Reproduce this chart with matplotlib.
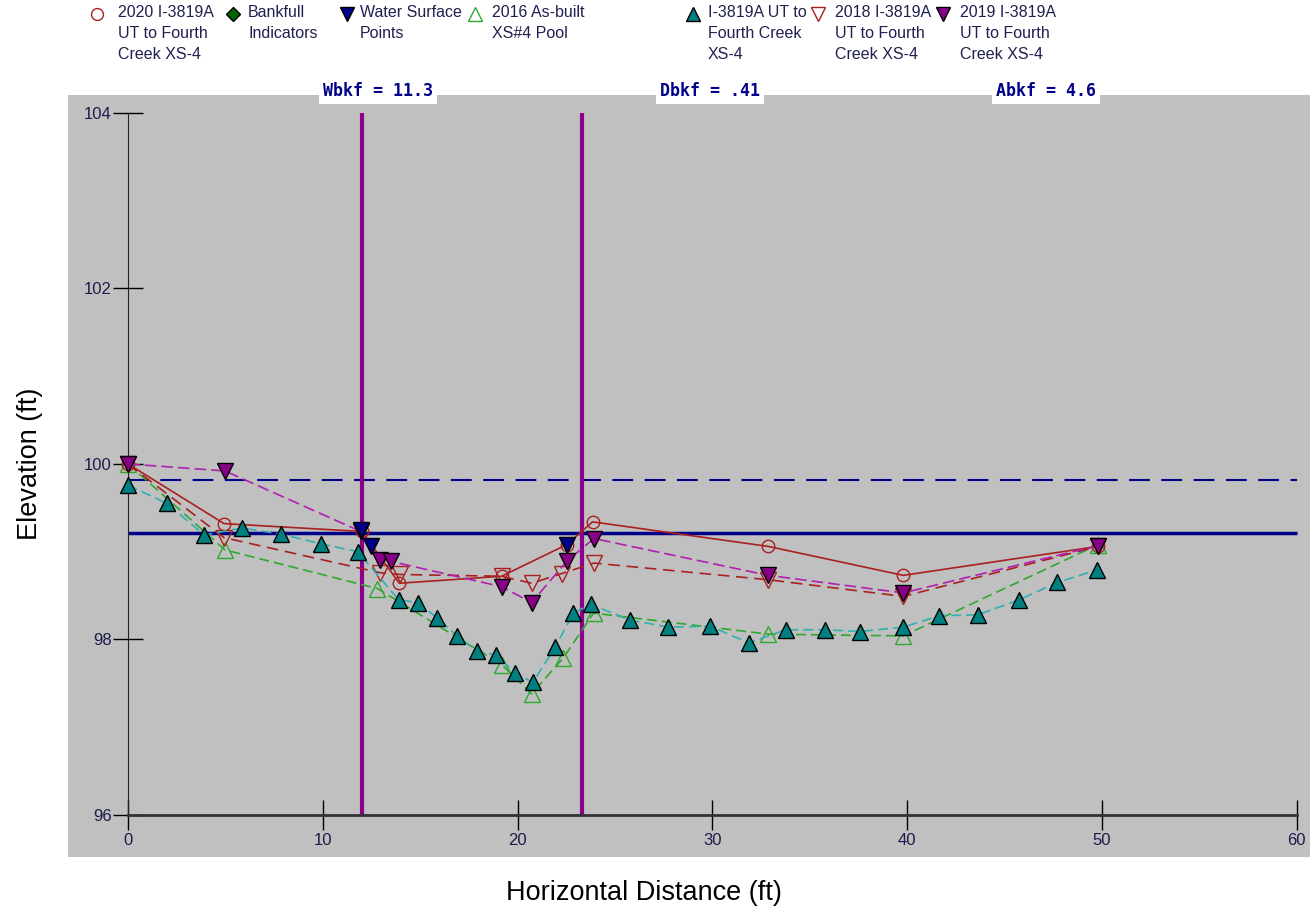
import matplotlib
matplotlib.use('Agg')
import matplotlib.pyplot as plt
from matplotlib.lines import Line2D

# survey data (horizontal distance ft, elevation ft)
x_2020 = [0, 4.93, 12.0, 13.93, 19.18, 22.52, 23.85, 32.87, 39.8, 49.8]
y_2020 = [100.0, 99.32, 99.23, 98.64, 98.72, 99.08, 99.34, 99.06, 98.73, 99.06]

x_2018 = [0, 4.93, 12.94, 13.96, 19.18, 20.72, 22.26, 23.92, 32.87, 39.8, 49.8]
y_2018 = [100.0, 99.16, 98.76, 98.74, 98.72, 98.64, 98.75, 98.87, 98.68, 98.49, 99.06]

x_2019 = [0, 4.98, 11.95, 12.94, 13.49, 19.2, 20.72, 22.52, 23.92, 32.87, 39.8, 49.8]
y_2019 = [100.0, 99.92, 99.23, 98.91, 98.89, 98.6, 98.42, 98.89, 99.15, 98.73, 98.53, 99.07]

x_2016 = [0, 4.98, 12.8, 19.2, 20.72, 22.35, 23.9, 32.87, 39.8, 49.8]
y_2016 = [100.0, 99.02, 98.58, 97.71, 97.38, 97.79, 98.3, 98.06, 98.04, 99.08]

x_base = [0, 1.98, 3.92, 5.84, 7.85, 9.9, 11.8, 13.9, 14.9, 15.88, 16.9, 17.9, 18.9,
          19.87, 20.78, 21.93, 22.86, 23.75, 25.77, 27.74, 29.88, 31.88, 33.76,
          35.78, 37.58, 39.8, 41.65, 43.62, 45.74, 47.71, 49.73]
y_base = [99.76, 99.55, 99.19, 99.27, 99.2, 99.09, 99.0, 98.45, 98.42, 98.24, 98.04,
          97.87, 97.82, 97.62, 97.51, 97.91, 98.3, 98.4, 98.22, 98.14, 98.15, 97.96,
          98.11, 98.11, 98.09, 98.14, 98.27, 98.28, 98.45, 98.65, 98.79]

x_ws = [11.95, 12.46, 22.52]
y_ws = [99.25, 99.07, 99.08]

x_bkf_ind = []
y_bkf_ind = []

bankfull_x = [12.0, 23.3]
bankfull_elev = 99.21
flood_elev = 99.82

labels = ["2020 I-3819A\nUT to Fourth\nCreek XS-4",
          "Bankfull\nIndicators",
          "Water Surface\nPoints",
          "2016 As-built\nXS#4 Pool",
          "I-3819A UT to\nFourth Creek\nXS-4",
          "2018 I-3819A\nUT to Fourth\nCreek XS-4",
          "2019 I-3819A\nUT to Fourth\nCreek XS-4"]
stats = ["Wbkf = 11.3", "Dbkf = .41", "Abkf = 4.6"]

plt.rcParams['font.family'] = ['Liberation Sans', 'DejaVu Sans']

fig = plt.figure(figsize=(13.15, 9.17), dpi=100)
ax = fig.add_axes([68/1315, 1-857/917, 1242/1315, 762/917])
ax.set_facecolor('#c0c0c0')
ax.set_xlim(-3.08, 60.68)
ax.set_ylim(95.52, 104.205)

navy = '#000088'
red = '#aa2020'
purple = '#8b008b'

ax.hlines(flood_elev, 0, 60, color=navy, lw=1.5, linestyles=(0, (10, 5.5)), zorder=2)
ax.hlines(bankfull_elev, 0, 60, color=navy, lw=2.5, zorder=2)
ax.vlines(bankfull_x, 96, 104, color=purple, lw=3, zorder=2)

h16, = ax.plot(x_2016, y_2016, ls=(0, (6, 3)), color='#30a830', lw=1.2,
               marker='^', ms=11, mfc='none', mec='#30a830', zorder=3)
h18, = ax.plot(x_2018, y_2018, ls=(0, (7, 4)), color=red, lw=1.2,
               marker='v', ms=11, mfc='none', mec=red, zorder=4)
h20, = ax.plot(x_2020, y_2020, ls='-', color=red, lw=1.2,
               marker='o', ms=9, mfc='none', mec=red, zorder=5)
hb, = ax.plot(x_base, y_base, ls=(0, (6, 3)), color='#30b0b0', lw=1.2,
              marker='^', ms=11, mfc='#008080', mec='black', mew=1, zorder=6)
h19, = ax.plot(x_2019, y_2019, ls=(0, (7, 3)), color='#b020b0', lw=1.2,
               marker='v', ms=11, mfc='#880088', mec='black', mew=1, zorder=7)
hw, = ax.plot(x_ws, y_ws, ls='none', marker='v', ms=11, mfc=navy, mec='black',
              mew=1, zorder=8)
hbi, = ax.plot(x_bkf_ind, y_bkf_ind, ls='none', marker='D', ms=8, mfc='#006400',
               mec='black', zorder=8)

for s in ['top', 'right']:
    ax.spines[s].set_visible(False)
ax.spines['left'].set_position(('data', 0))
ax.spines['left'].set_bounds(96, 104)
ax.spines['bottom'].set_position(('data', 96))
ax.spines['bottom'].set_bounds(0, 60)
ax.spines['left'].set_color('#222222')
ax.spines['bottom'].set_color('#333333')
ax.spines['bottom'].set_linewidth(2)
ax.set_xticks(range(0, 61, 10))
ax.set_yticks(range(96, 105, 2))
ax.tick_params(direction='inout', length=21.6, width=1, color='black',
               labelsize=12, labelcolor='#1c1c4c')
ax.tick_params(axis='x', pad=2)
ax.tick_params(axis='y', pad=1)

fig.text(30/1315, 1-464/917, 'Elevation (ft)', rotation=90, ha='center', va='center',
         fontsize=19.5)
fig.text(644/1315, 1-893/917, 'Horizontal Distance (ft)', ha='center', va='center',
         fontsize=19.5)

# bankfull stats boxes
for txt, cx in zip(stats, [378, 710, 1046]):
    fig.text(cx/1315, 1-91/917, txt, ha='center', va='center', fontsize=12,
             family='DejaVu Sans Mono', weight='bold', color=navy,
             bbox=dict(boxstyle='square,pad=0.25', fc='white', ec='none'))

# legend entries across the top: marker beside the first line of each label
handles = [h20, hbi, hw, h16, hb, h18, h19]
marker_x = [97, 233, 347, 475, 693, 818, 943]
text_x = [118, 248, 360, 492, 708, 835, 960]
for h, lab, mx, tx in zip(handles, labels, marker_x, text_x):
    fig.add_artist(Line2D([mx/1315], [1-14/917], transform=fig.transFigure,
                          ls='none', marker=h.get_marker(), ms=h.get_markersize()*0.95,
                          mfc=h.get_markerfacecolor(), mec=h.get_markeredgecolor()))
    fig.text(tx/1315, 1-5/917, lab, ha='left', va='top', fontsize=11.5,
             color='#202050', linespacing=1.52)

fig.savefig('out.png', dpi=100)
